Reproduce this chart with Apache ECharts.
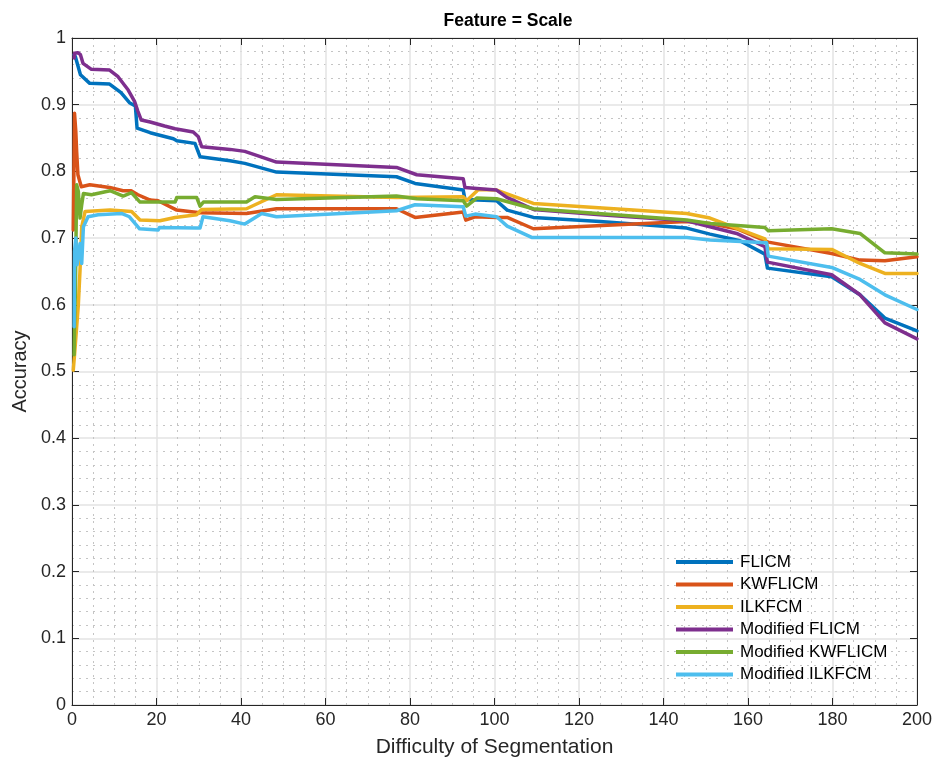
<!DOCTYPE html>
<html>
<head>
<meta charset="utf-8">
<script src="https://cdn.jsdelivr.net/npm/echarts@6/dist/echarts.min.js"></script>
<style>
html,body{margin:0;padding:0;background:#fff;}
#chart{width:937px;height:767px;}
</style>
</head>
<body>
<div id="chart"></div>
<script>
// ---- Data (x = Difficulty of Segmentation, y = Accuracy) ----
const seriesNames = ['FLICM', 'KWFLICM', 'ILKFCM', 'Modified FLICM', 'Modified KWFLICM', 'Modified ILKFCM'];

const FLICM = [[0.5,0.975],[0.8,0.972],[2,0.945],[4.2,0.932],[8.9,0.931],[11.6,0.918],[13.6,0.903],[15,0.898],[15.4,0.865],[18.5,0.858],[20.3,0.855],[24,0.849],[24.8,0.846],[29.1,0.842],[30.3,0.822],[37.4,0.816],[40.9,0.812],[48.4,0.799],[76.8,0.792],[81.2,0.782],[92.6,0.772],[93,0.758],[100.5,0.756],[103,0.742],[109.2,0.731],[125,0.725],[145.5,0.715],[151,0.706],[158.1,0.696],[164,0.676],[164.6,0.655],[179.8,0.642],[186.5,0.615],[192.4,0.58],[200,0.561]];

const KWFLICM = [[0.3,0.712],[0.6,0.887],[0.9,0.86],[1.1,0.83],[1.4,0.795],[2.2,0.777],[4.2,0.78],[8.9,0.776],[12.1,0.771],[14,0.771],[15.6,0.765],[18.5,0.757],[20.4,0.756],[24.8,0.742],[30.3,0.738],[41.3,0.737],[48.4,0.744],[76.8,0.744],[81.2,0.731],[92.6,0.739],[93.2,0.727],[95.4,0.732],[100.5,0.731],[103,0.731],[109.2,0.714],[145.5,0.725],[151,0.722],[157.3,0.714],[164.8,0.694],[179.8,0.677],[186.5,0.667],[192.4,0.666],[200,0.672]];

const ILKFCM = [[0.3,0.502],[0.6,0.525],[1.5,0.6],[1.9,0.652],[2.3,0.717],[3.1,0.74],[9,0.742],[14.1,0.74],[16.1,0.727],[20.8,0.726],[24.4,0.731],[29.5,0.735],[30.7,0.743],[41.3,0.744],[48.4,0.765],[76.8,0.761],[92.6,0.762],[93.4,0.756],[96.2,0.773],[100.5,0.772],[109.2,0.752],[145.5,0.737],[151,0.73],[164,0.699],[164.8,0.684],[179.8,0.683],[186.5,0.662],[192.4,0.647],[200,0.647]];

const MOD_FLICM = [[0.5,0.97],[0.6,0.977],[1.4,0.978],[2,0.975],[2.6,0.962],[4.6,0.953],[8.9,0.952],[10.9,0.942],[13.3,0.922],[14.8,0.905],[15.6,0.89],[16.4,0.877],[18.5,0.874],[21.9,0.868],[24.4,0.864],[28.7,0.859],[29.9,0.852],[30.7,0.837],[37.4,0.833],[40.9,0.83],[48.4,0.814],[76.8,0.806],[81.6,0.795],[92.6,0.789],[93,0.776],[96.6,0.774],[100.5,0.772],[102.9,0.761],[109.2,0.743],[125,0.735],[145.5,0.726],[151,0.717],[157.3,0.707],[164,0.687],[164.6,0.664],[179.8,0.645],[186.5,0.615],[192.4,0.573],[200,0.549]];

const MOD_KWFLICM = [[0.5,0.525],[0.6,0.567],[0.8,0.62],[1.1,0.78],[1.5,0.77],[1.9,0.73],[2.3,0.75],[2.7,0.767],[4.6,0.765],[9,0.771],[12.1,0.763],[14.1,0.768],[16.1,0.754],[24.4,0.754],[24.8,0.761],[29.5,0.761],[30.3,0.748],[31.1,0.754],[41.3,0.754],[43.3,0.762],[48.4,0.758],[76.8,0.763],[81.6,0.759],[92.6,0.756],[93.4,0.748],[95.8,0.76],[100.5,0.759],[109.2,0.744],[145.5,0.727],[151,0.722],[164,0.716],[164.8,0.711],[179.8,0.714],[186.5,0.707],[192.4,0.678],[200,0.676]];

const MOD_ILKFCM = [[0.5,0.567],[0.6,0.68],[0.9,0.7],[1.2,0.66],[1.5,0.662],[1.9,0.692],[2.3,0.662],[2.7,0.717],[3.8,0.732],[6.2,0.735],[11.7,0.737],[13.6,0.732],[16,0.714],[20.4,0.712],[20.7,0.716],[29.5,0.715],[30.3,0.715],[31,0.732],[37.4,0.726],[40.9,0.721],[44.9,0.737],[48.4,0.732],[76.8,0.741],[81.2,0.75],[92.6,0.747],[93.2,0.733],[95.4,0.736],[100.5,0.732],[103,0.718],[108.8,0.701],[145.5,0.701],[151,0.697],[164.4,0.693],[164.8,0.673],[179.8,0.656],[186.5,0.638],[192.4,0.615],[200,0.593]];

const seriesData = [FLICM, KWFLICM, ILKFCM, MOD_FLICM, MOD_KWFLICM, MOD_ILKFCM];
const colors = ['#0072BD', '#D95319', '#EDB120', '#7E2F8E', '#77AC30', '#4DBEEE'];

const xRange = [0, 200], xStep = 20;
const yRange = [0, 1], yStep = 0.1;

const FONT = 'Liberation Sans, Arial, Helvetica, sans-serif';
const TXT = '#262626';

const chart = echarts.init(document.getElementById('chart'), null, {renderer: 'canvas'});

const baseX = {
  type: 'value', min: xRange[0], max: xRange[1], interval: xStep,
  axisLine: {show: true, onZero: false, lineStyle: {color: TXT, width: 1}},
  axisTick: {show: true, inside: true, length: 7, lineStyle: {color: TXT}},
  minorTick: {show: false, splitNumber: 4}
};
const baseY = {
  type: 'value', min: yRange[0], max: yRange[1], interval: yStep,
  axisLine: {show: true, onZero: false, lineStyle: {color: TXT, width: 1}},
  axisTick: {show: true, inside: true, length: 7, lineStyle: {color: TXT}},
  minorTick: {show: false, splitNumber: 5}
};

const option = {
  animation: false,
  backgroundColor: '#ffffff',
  title: {
    text: 'Feature = Scale',
    left: 503, top: 7, textAlign: 'center',
    textStyle: {fontFamily: FONT, fontSize: 17.5, fontWeight: 'bold', color: '#000'}
  },
  grid: {left: 72, right: 20, top: 38, bottom: 62, show: false},
  legend: {
    data: seriesNames,
    orient: 'vertical',
    left: 676, top: 551,
    padding: 0,
    icon: 'rect',
    itemWidth: 57, itemHeight: 4,
    itemGap: 0.5,
    textStyle: {fontFamily: FONT, fontSize: 17, color: '#000', lineHeight: 22, padding: [0, 0, 0, 2]}
  },
  xAxis: [
    Object.assign({}, baseX, {
      position: 'bottom',
      name: 'Difficulty of Segmentation', nameLocation: 'middle', nameGap: 32,
      nameTextStyle: {fontFamily: FONT, fontSize: 21, color: TXT},
      axisLabel: {fontFamily: FONT, fontSize: 18, color: TXT, margin: 6},
      splitLine: {show: true, lineStyle: {color: '#e3e3e3', width: 1.5}},
      minorSplitLine: {show: true, lineStyle: {color: '#c4c4c4', width: 1, type: [2, 5]}}
    }),
    Object.assign({}, baseX, {
      position: 'top',
      axisLabel: {show: false},
      splitLine: {show: false}
    })
  ],
  yAxis: [
    Object.assign({}, baseY, {
      position: 'left',
      name: 'Accuracy', nameLocation: 'middle', nameGap: 42, nameRotate: 90,
      nameTextStyle: {fontFamily: FONT, fontSize: 20, color: TXT},
      axisLabel: {fontFamily: FONT, fontSize: 18, color: TXT, margin: 6,
        formatter: v => String(Math.round(v * 10) / 10)},
      splitLine: {show: true, lineStyle: {color: '#e3e3e3', width: 1.5}},
      minorSplitLine: {show: true, lineStyle: {color: '#c4c4c4', width: 1, type: [2, 5]}}
    }),
    Object.assign({}, baseY, {
      position: 'right',
      axisLabel: {show: false},
      splitLine: {show: false}
    })
  ],
  series: seriesNames.map((name, i) => ({
    name: name,
    type: 'line',
    xAxisIndex: 0, yAxisIndex: 0,
    data: seriesData[i],
    showSymbol: false,
    symbol: 'none',
    color: colors[i],
    lineStyle: {color: colors[i], width: 3.5, cap: 'round', join: 'round'},
    clip: true,
    z: 2 + i
  }))
};

chart.setOption(option);
</script>
</body>
</html>
